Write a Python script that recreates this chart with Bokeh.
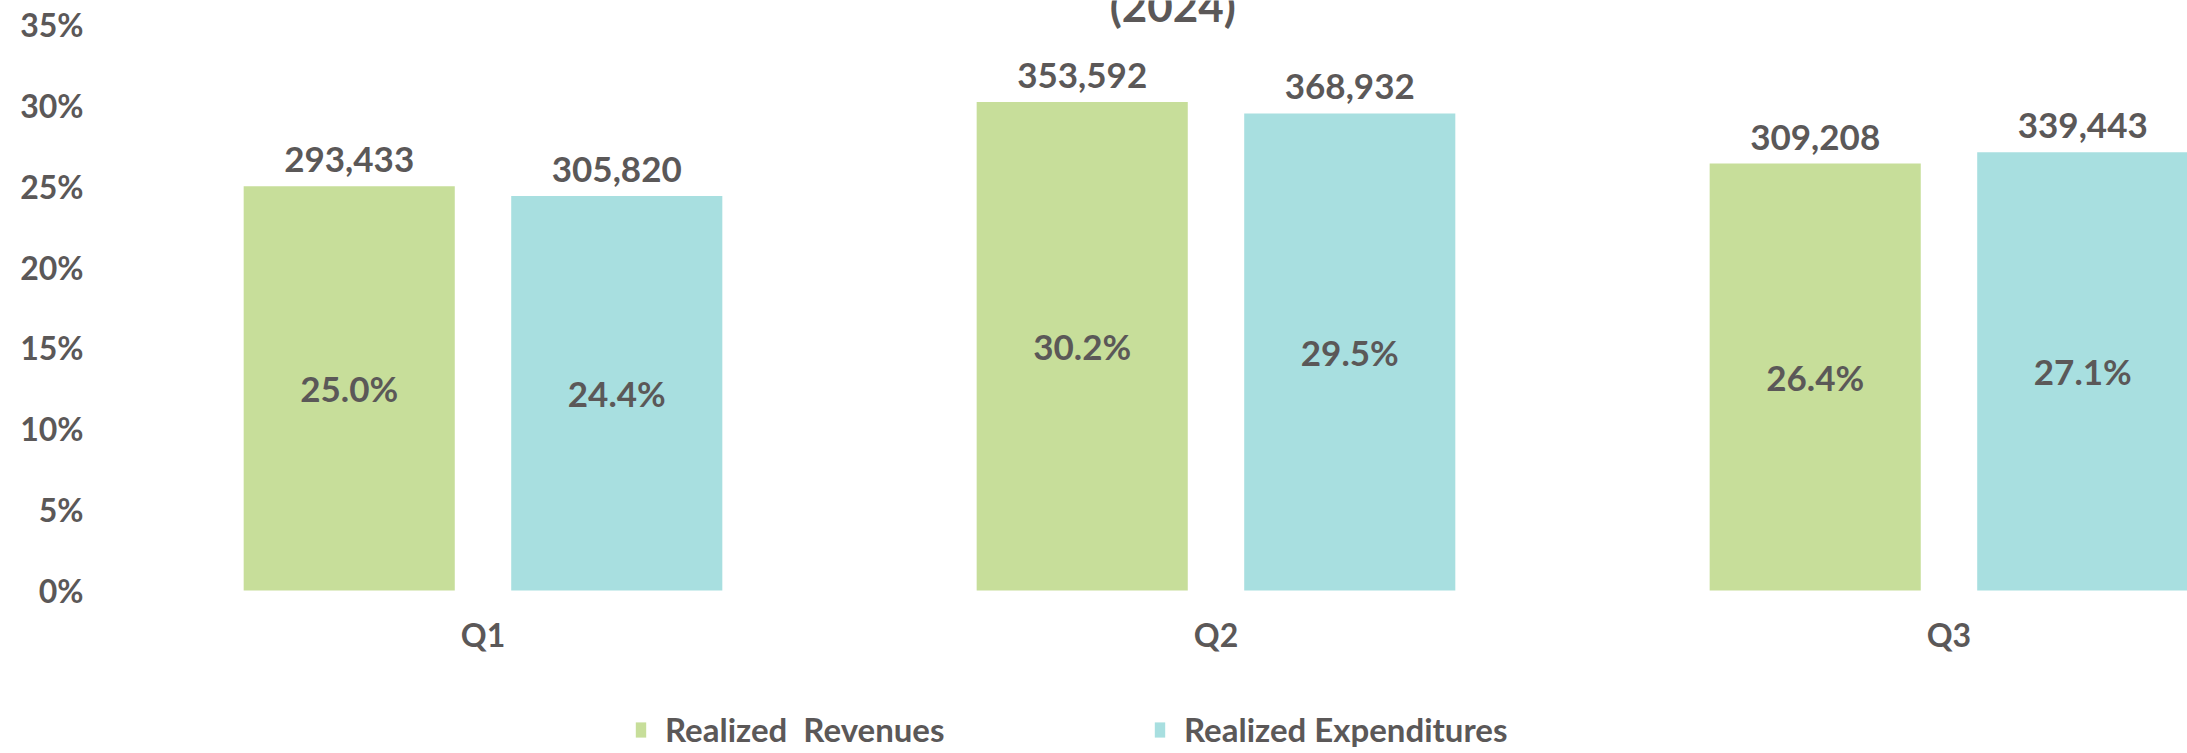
from bokeh.plotting import figure
from bokeh.models import (ColumnDataSource, Range1d, FixedTicker, PrintfTickFormatter,
                          LabelSet, Label, Legend, LegendItem)
from bokeh.core.properties import value
from bokeh.embed import file_html
from bokeh.resources import INLINE

# ---- data ----
categories = ["Q1", "Q2", "Q3"]
revenue_pct = [25.0, 30.2, 26.4]
expenditure_pct = [24.4, 29.5, 27.1]
revenue_amount = [293433, 353592, 309208]
expenditure_amount = [305820, 368932, 339443]
series_names = ["Realized  Revenues", "Realized Expenditures"]
y_ticks = [0, 5, 10, 15, 20, 25, 30, 35]
title_text = "(2024)"

# ---- style ----
FONT = "Lato"
TXT = "#5B5858"
GREEN = "#C7DE9A"
TEAL = "#A8DFE0"
OFFSET = 0.1825
BAR_W = 0.288

idx = list(range(len(categories)))
rev_src = ColumnDataSource(dict(
    x=[i - OFFSET for i in idx], top=revenue_pct, mid=[v / 2 for v in revenue_pct],
    amt=[f"{a:,}" for a in revenue_amount], pct=[f"{v:.1f}%" for v in revenue_pct]))
exp_src = ColumnDataSource(dict(
    x=[i + OFFSET for i in idx], top=expenditure_pct, mid=[v / 2 for v in expenditure_pct],
    amt=[f"{a:,}" for a in expenditure_amount], pct=[f"{v:.1f}%" for v in expenditure_pct]))

# frame fills the canvas vertically; the category axis sits at y = 0
p = figure(width=2187, height=749, output_backend="svg", toolbar_location=None,
           x_range=Range1d(-0.5, 2.3254), y_range=Range1d(-9.832, 36.484),
           min_border_left=116, min_border_right=0, min_border_top=0, min_border_bottom=0)
p.outline_line_color = None
p.xgrid.visible = False
p.ygrid.visible = False
p.background_fill_color = "white"
p.border_fill_color = "white"

r1 = p.vbar(x="x", top="top", width=BAR_W, source=rev_src, fill_color=GREEN, line_color=None)
r2 = p.vbar(x="x", top="top", width=BAR_W, source=exp_src, fill_color=TEAL, line_color=None)

# axes
p.xaxis.fixed_location = 0
p.xaxis.ticker = FixedTicker(ticks=idx)
p.xaxis.major_label_overrides = {i: c for i, c in zip(idx, categories)}
p.yaxis.ticker = FixedTicker(ticks=y_ticks)
p.yaxis.formatter = PrintfTickFormatter(format="%d%%")
for ax in (p.xaxis, p.yaxis):
    ax.axis_line_color = None
    ax.major_tick_line_color = None
    ax.minor_tick_line_color = None
    ax.major_tick_in = 0
    ax.major_tick_out = 0
    ax.minor_tick_in = 0
    ax.minor_tick_out = 0
    ax.major_label_text_font = FONT
    ax.major_label_text_font_style = "bold"
    ax.major_label_text_color = TXT
    ax.major_label_text_font_size = "32px"
p.yaxis.major_label_standoff = 33
p.xaxis.major_label_standoff = 24

# value labels
for src in (rev_src, exp_src):
    p.add_layout(LabelSet(x="x", y="top", text="amt", source=src, text_align="center",
                          text_baseline="alphabetic", y_offset=14, text_font=value(FONT),
                          text_font_style="bold", text_font_size="35px", text_color=TXT))
    p.add_layout(LabelSet(x="x", y="mid", text="pct", source=src, text_align="center",
                          text_baseline="middle", text_font=value(FONT),
                          text_font_style="bold", text_font_size="35px", text_color=TXT))

# partially visible title (cropped at the top in the reference)
p.add_layout(Label(x=0.941, y=36.2, text=title_text, text_align="center",
                   text_baseline="alphabetic", text_font=FONT, text_font_style="bold",
                   text_font_size="44px", text_color=TXT))

legend = Legend(items=[LegendItem(label=series_names[0], renderers=[r1]),
                       LegendItem(label=series_names[1], renderers=[r2])],
                orientation="horizontal", location=(518, 0),
                border_line_color=None, background_fill_alpha=0,
                padding=0, margin=0, spacing=10, label_standoff=18,
                glyph_width=13, glyph_height=19, label_width=478,
                label_text_font=FONT, label_text_font_style="bold",
                label_text_font_size="33px", label_text_color=TXT)
p.add_layout(legend)

open("out.html", "w").write(file_html(p, INLINE))
